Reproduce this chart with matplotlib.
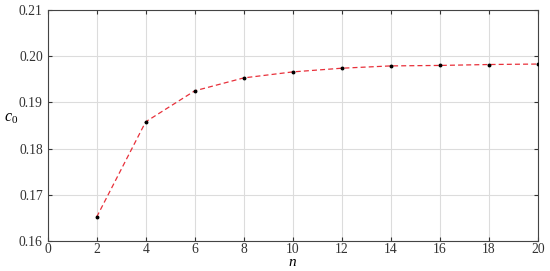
import matplotlib
matplotlib.use("Agg")
import matplotlib.pyplot as plt

n_vals = [2, 4, 6, 8, 10, 12, 14, 16, 18, 20]
c0_vals = [0.1652, 0.1858, 0.1925, 0.1953, 0.1966, 0.1974, 0.1979, 0.1980, 0.1982, 0.1983]
x_ticks = list(range(0, 21, 2))
y_ticks = [0.16, 0.17, 0.18, 0.19, 0.20, 0.21]

plt.rcParams['font.family'] = ['Liberation Serif', 'DejaVu Serif']
plt.rcParams['mathtext.fontset'] = 'custom'
plt.rcParams['mathtext.it'] = 'Liberation Serif:italic'
plt.rcParams['mathtext.rm'] = 'Liberation Serif'

fig = plt.figure(figsize=(5.5, 2.71), dpi=100)
ax = fig.add_axes([0.0867, 0.1107, 0.891, 0.8524])

ax.plot(n_vals, c0_vals, color='#e8303a', linestyle=(0, (4, 2.5)), linewidth=0.9, zorder=3)
ax.plot(n_vals, c0_vals, linestyle='none', marker='o', markersize=1.8, color='black', zorder=4)

ax.set_xlim(0, 20)
ax.set_ylim(0.16, 0.21)
ax.set_xticks(x_ticks)
ax.set_yticks(y_ticks)
ax.set_yticklabels(['%.2f' % v for v in y_ticks])
ax.grid(True, color='#dcdcdc', linewidth=0.8)
ax.set_axisbelow(True)
ax.tick_params(direction='in', top=True, right=True, length=3, labelsize=9.8, colors='#333333')
ax.tick_params(axis='x', pad=1.5)
for s in ax.spines.values():
    s.set_color('#444444')
    s.set_linewidth(0.8)

ax.set_xlabel('n', fontsize=11, style='italic', va='bottom')
ax.xaxis.set_label_coords(0.532, 1.5 / 271, transform=fig.transFigure)
ax.set_ylabel('$c_0$', fontsize=11.5, rotation=0)
ax.yaxis.set_label_coords(-0.075, 0.5)

fig.savefig('out.png', dpi=100)
